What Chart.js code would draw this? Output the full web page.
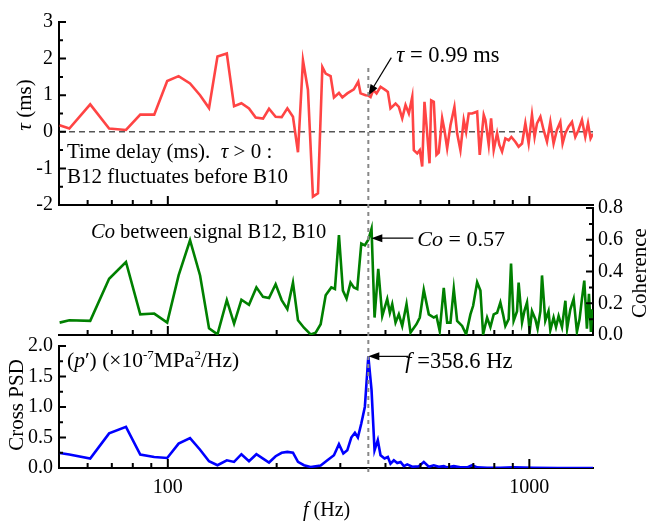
<!DOCTYPE html>
<html>
<head>
<meta charset="utf-8">
<script src="https://cdn.jsdelivr.net/npm/chart.js@4.4.1/dist/chart.umd.min.js"></script>
<style>
html, body { margin: 0; padding: 0; background: #fff; }
#wrap { position: relative; width: 646px; height: 523px; }
#wrap canvas { position: absolute; left: 0; top: 0; }
</style>
</head>
<body>
<div id="wrap">
  <canvas id="tau" width="646" height="523"></canvas>
  <canvas id="coh" width="646" height="523"></canvas>
  <canvas id="psd" width="646" height="523"></canvas>
</div>
<script>
// time delay tau (ms)
const tauFreq = [50.2, 53.4, 61.0, 68.8, 76.6, 83.9, 91.7, 99.6, 107.1, 115.2, 122.8, 130.0, 137.2, 145.6, 152.5, 159.8,
  167.7, 175.0, 183.4, 190.5, 198.7, 206.5, 214.1, 221.9, 229.1, 236.5, 244.1, 252.0, 260.2, 267.6, 273.3, 282.0,
  288.1, 297.4, 303.9, 313.6, 327.0, 336.3, 341.3, 352.4, 358.6, 363.8, 370.1, 377.9, 387.6, 400.1, 406.1, 413.0,
  426.5, 435.5, 445.0, 454.5, 464.2, 474.3, 479.1, 489.6, 497.7, 505.4, 512.8, 521.7, 529.5, 535.2, 544.1, 553.5,
  561.6, 573.9, 582.3, 592.5, 605.1, 620.5, 631.3, 644.7, 658.4, 668.5, 679.7, 694.6, 717.1, 729.1, 747.9, 756.0,
  772.1, 783.8, 796.9, 814.4, 826.2, 840.5, 858.3, 876.6, 891.8, 914.6, 934.0, 954.6, 974.9, 995.6, 1017, 1034,
  1050, 1073, 1095, 1119, 1143, 1167, 1192, 1218, 1236, 1258, 1284, 1312, 1340, 1368, 1398, 1428, 1453, 1477, 1500];
const tauVal = [0.18, 0.09, 0.75, 0.09, 0.05, 0.47, 0.47, 1.39, 1.52, 1.32, 1.00, 0.65, 2.06, 2.14, 0.70, 0.78,
  0.64, 0.39, 0.36, 0.63, 0.41, 0.40, 0.64, 0.41, -0.56, 1.95, 1.15, -1.77, -1.68, 1.77, 1.59, 1.52,
  0.94, 1.06, 0.94, 1.05, 1.16, 1.37, 1.05, 1.00, 0.99, 0.95, 1.14, 1.05, 1.23, 1.14, 1.09, 0.64,
  0.77, 0.68, 0.37, 0.73, 0.50, 0.95, -0.50, -0.59, -0.50, -0.95, 0.82, -0.04, -0.86, 0.86, 0.82, -0.63,
  -0.57, 0.37, 0.05, -0.45, 0.18, 0.68, -0.04, -0.50, 0.32, 0.00, 0.50, 0.50, 0.55, -0.63, 0.46, 0.32,
  -0.36, 0.37, -0.50, -0.04, -0.36, -0.54, -0.18, -0.23, -0.14, -0.27, -0.41, -0.32, 0.23, -0.32, 0.46, -0.14,
  0.23, 0.41, 0.05, -0.27, 0.27, -0.32, 0.05, 0.27, -0.32, -0.04, 0.14, 0.27, -0.14, 0.05, 0.32, -0.14, 0.23, -0.18, -0.05];

// coherence
const cohFreq = [50.2, 53.4, 61.0, 68.8, 76.6, 83.9, 91.7, 99.6, 107.1, 115.2, 122.8, 130.0, 137.2, 145.6, 152.5, 159.8,
  167.7, 175.8, 183.4, 190.5, 198.7, 206.5, 214.1, 221.9, 229.1, 238.0, 248.3, 256.4, 264.7, 273.3, 283.3, 289.9,
  297.4, 305.0, 312.2, 320.2, 327.0, 334.2, 342.9, 350.8, 358.6, 366.0, 373.1, 382.0, 391.9, 404.5, 411.3, 417.6,
  426.5, 435.5, 445.0, 457.4, 469.2, 487.3, 497.7, 510.5, 527.1, 544.1, 553.5, 565.0, 579.8, 592.5, 605.1, 618.0,
  631.3, 651.8, 668.5, 687.1, 699.1, 717.1, 732.3, 745.0, 764.1, 780.4, 796.9, 814.4, 831.5, 845.8, 858.3, 876.6,
  890.0, 904.8, 924.7, 934.0, 954.6, 968.8, 985.4, 1002, 1017, 1039, 1054, 1073, 1084, 1107, 1130, 1143,
  1167, 1185, 1205, 1231, 1258, 1272, 1298, 1326, 1354, 1377, 1398, 1419, 1443, 1462, 1480, 1493, 1500];
const cohVal = [0.078, 0.093, 0.089, 0.354, 0.46, 0.13, 0.135, 0.078, 0.375, 0.597, 0.375, 0.042, 0.004, 0.22, 0.072, 0.222,
  0.19, 0.30, 0.24, 0.233, 0.32, 0.22, 0.163, 0.33, 0.093, 0.046, 0.004, 0.015, 0.068, 0.25, 0.30, 0.29,
  0.63, 0.28, 0.23, 0.33, 0.30, 0.29, 0.576, 0.565, 0.60, 0.67, 0.11, 0.417, 0.12, 0.227, 0.14, 0.195,
  0.078, 0.13, 0.057, 0.195, 0.015, 0.068, 0.11, 0.284, 0.13, 0.11, 0.12, 0.025, 0.297, 0.078, 0.078, 0.29,
  0.089, 0.057, 0.004, 0.13, 0.184, 0.332, 0.28, 0.004, 0.11, 0.05, 0.13, 0.14, 0.205, 0.13, 0.057, 0.10,
  0.45, 0.089, 0.15, 0.33, 0.08, 0.15, 0.205, 0.02, 0.15, 0.10, 0.04, 0.15, 0.375, 0.09, 0.15, 0.03,
  0.11, 0.05, 0.12, 0.05, 0.216, 0.04, 0.16, 0.227, 0.02, 0.10, 0.227, 0.343, 0.04, 0.26, 0.02, 0.152, 0.15];

// cross PSD (x1e-7 MPa^2/Hz)
const psdFreq = [50.2, 53.4, 61.0, 68.8, 76.6, 83.9, 91.7, 99.6, 107.1, 115.2, 122.8, 130.0, 137.2, 145.6, 152.5, 159.8,
  167.7, 175.8, 183.4, 190.5, 198.7, 206.5, 214.1, 221.9, 229.1, 238.0, 248.3, 264.7, 276.3, 288.1, 297.4, 305.8,
  313.6, 321.7, 329.2, 335.5, 342.9, 350.8, 358.6, 366.0, 373.1, 380.9, 387.6, 397.6, 406.1, 413.0, 421.9, 431.1,
  440.3, 449.7, 459.5, 474.3, 494.6, 510.5, 527.1, 544.1, 561.6, 579.8, 592.5, 618.0, 644.7, 672.8, 694.6, 717.1,
  764.1, 831.5, 904.8, 1028, 1200, 1500];
const psdVal = [0.247, 0.22, 0.155, 0.567, 0.675, 0.22, 0.18, 0.165, 0.40, 0.49, 0.30, 0.11, 0.045, 0.127, 0.10, 0.226,
  0.11, 0.226, 0.155, 0.09, 0.193, 0.25, 0.264, 0.25, 0.10, 0.045, 0.017, 0.04, 0.127, 0.21, 0.39, 0.237,
  0.29, 0.50, 0.577, 0.50, 0.73, 1.005, 1.83, 1.28, 0.29, 0.456, 0.21, 0.155, 0.18, 0.07, 0.127, 0.082,
  0.10, 0.03, 0.06, 0.02, 0.03, 0.10, 0.02, 0.045, 0.02, 0.03, 0.01, 0.03, 0.01, 0.01, 0.045, 0.01,
  0.005, 0.005, 0.01, 0.005, 0.0, 0.0];

const xMajor = [100, 1000];
const xMinor = [60, 70, 80, 90, 200, 300, 400, 500, 600, 700, 800, 900];
const peakF = 358.6;

const FONT = '"Liberation Serif", "Times New Roman", serif';

function pts(xs, ys) { return xs.map((f, i) => ({ x: f, y: ys[i] })); }

function rich(ctx, x, y, parts, size) {
  parts.forEach(p => {
    const s = p.sup ? Math.round(size * 0.62) : size;
    ctx.font = (p.it ? 'italic ' : '') + s + 'px ' + FONT;
    ctx.fillText(p.t, x, p.sup ? y - size * 0.38 : y);
    x += ctx.measureText(p.t).width;
  });
  return x;
}
function richWidth(ctx, parts, size) {
  let w = 0;
  parts.forEach(p => {
    const s = p.sup ? Math.round(size * 0.62) : size;
    ctx.font = (p.it ? 'italic ' : '') + s + 'px ' + FONT;
    w += ctx.measureText(p.t).width;
  });
  return w;
}
function vtitle(ctx, cx, cy, parts, size) {
  ctx.save();
  ctx.translate(cx, cy);
  ctx.rotate(-Math.PI / 2);
  ctx.textAlign = 'left';
  ctx.textBaseline = 'middle';
  ctx.fillStyle = '#000';
  rich(ctx, -richWidth(ctx, parts, size) / 2, 0, parts, size);
  ctx.restore();
}
function arrow(ctx, x1, y1, x2, y2) {
  const a = Math.atan2(y2 - y1, x2 - x1), L = 11, W = 4;
  ctx.strokeStyle = '#000';
  ctx.lineWidth = 1.2;
  ctx.beginPath();
  ctx.moveTo(x1, y1);
  ctx.lineTo(x2 - Math.cos(a) * L * 0.8, y2 - Math.sin(a) * L * 0.8);
  ctx.stroke();
  ctx.fillStyle = '#000';
  ctx.beginPath();
  ctx.moveTo(x2, y2);
  ctx.lineTo(x2 - L * Math.cos(a) + W * Math.sin(a), y2 - L * Math.sin(a) - W * Math.cos(a));
  ctx.lineTo(x2 - L * Math.cos(a) - W * Math.sin(a), y2 - L * Math.sin(a) + W * Math.cos(a));
  ctx.closePath();
  ctx.fill();
}

// inward ticks on the axes
const frame = {
  id: 'frame',
  afterDraw(chart, args, o) {
    const { ctx, chartArea: a, scales: { x, y } } = chart;
    ctx.save();
    ctx.strokeStyle = '#000';
    ctx.lineWidth = 2;
    ctx.beginPath();
    xMajor.forEach(v => { const p = x.getPixelForValue(v); ctx.moveTo(p, a.bottom); ctx.lineTo(p, a.bottom - 9); });
    xMinor.forEach(v => { const p = x.getPixelForValue(v); ctx.moveTo(p, a.bottom); ctx.lineTo(p, a.bottom - 5); });
    const edge = o.side === 'left' ? a.left : a.right;
    const dir = o.side === 'left' ? 1 : -1;
    const n = Math.round((y.max - y.min) / o.minor);
    for (let i = 0; i <= n; i++) {
      const v = y.min + i * o.minor;
      const major = i % Math.round(o.major / o.minor) === 0;
      const p = y.getPixelForValue(v);
      ctx.moveTo(edge, p);
      ctx.lineTo(edge + dir * (major ? 7 : 4), p);
    }
    ctx.stroke();
    ctx.restore();
  }
};

function axisX(showLabels, h) {
  return {
    type: 'logarithmic', min: 50, max: 1500,
    afterFit: s => { s.height = h; },
    grid: { display: false, drawTicks: false },
    border: { color: '#000', width: 2 },
    ticks: {
      display: showLabels, autoSkip: false, maxRotation: 0, padding: 8, color: '#000',
      font: { family: FONT, size: 20 },
      callback: v => (v === 100 || v === 1000) ? String(v) : ''
    }
  };
}
function axisY(min, max, step, w, pos, pad, fmt) {
  return {
    position: pos, min: min, max: max,
    afterFit: s => { s.width = w; },
    grid: { display: false, drawTicks: false },
    border: { color: '#000', width: 2 },
    ticks: { stepSize: step, padding: pad, color: '#000', font: { family: FONT, size: 20 }, callback: fmt }
  };
}
function common(pad, frameOpts) {
  return {
    responsive: false, animation: false, devicePixelRatio: 1,
    layout: { padding: pad },
    plugins: { legend: { display: false }, tooltip: { enabled: false }, frame: frameOpts }
  };
}

// --- top: time delay ---
new Chart(document.getElementById('tau'), {
  type: 'line',
  data: { datasets: [{ data: pts(tauFreq, tauVal), borderColor: '#ff4444', borderWidth: 2.6, pointRadius: 0, tension: 0 }] },
  options: Object.assign(common({ left: 0, right: 53, top: 22, bottom: 318 }, { side: 'left', major: 1, minor: 0.5 }), {
    scales: { x: axisX(false, 0), y: axisY(-2, 3, 1, 59, 'left', 6, v => String(v)) }
  }),
  plugins: [frame, {
    id: 'tauNotes',
    beforeDatasetsDraw(chart) {
      const { ctx, chartArea: a, scales: { y } } = chart;
      const y0 = y.getPixelForValue(0);
      ctx.save();
      ctx.setLineDash([6, 4]);
      ctx.strokeStyle = '#555';
      ctx.lineWidth = 1.5;
      ctx.beginPath(); ctx.moveTo(a.left, y0); ctx.lineTo(a.right, y0); ctx.stroke();
      ctx.restore();
    },
    afterDraw(chart) {
      const { ctx, chartArea: a, scales: { x, y } } = chart;
      ctx.save();
      ctx.fillStyle = '#000';
      ctx.textBaseline = 'alphabetic';
      rich(ctx, a.left + 8, 158, [{ t: 'Time delay (ms).  ' }, { t: 'τ', it: 1 }, { t: ' > 0 :' }], 21);
      rich(ctx, a.left + 8, 183, [{ t: 'B12 fluctuates before B10' }], 21);
      const tx = x.getPixelForValue(peakF), ty = y.getPixelForValue(0.99);
      arrow(ctx, tx + 23, ty - 38, tx, ty);
      ctx.fillStyle = '#000';
      rich(ctx, tx + 28, ty - 34, [{ t: 'τ', it: 1 }, { t: ' = 0.99 ms' }], 22.5);
      vtitle(ctx, 25, 105, [{ t: 'τ', it: 1 }, { t: ' (ms)' }], 21);
      ctx.restore();
    }
  }]
});

// --- middle: coherence ---
new Chart(document.getElementById('coh'), {
  type: 'line',
  data: { datasets: [{ data: pts(cohFreq, cohVal), borderColor: '#008000', borderWidth: 2.6, pointRadius: 0, tension: 0 }] },
  options: Object.assign(common({ left: 59, right: 0, top: 208, bottom: 188 }, { side: 'right', major: 0.2, minor: 0.1 }), {
    scales: { x: axisX(false, 0), y: axisY(0, 0.8, 0.2, 53, 'right', 5, v => v.toFixed(1)) }
  }),
  plugins: [frame, {
    id: 'cohNotes',
    afterDraw(chart) {
      const { ctx, chartArea: a, scales: { x, y } } = chart;
      ctx.save();
      ctx.fillStyle = '#000';
      ctx.textBaseline = 'alphabetic';
      rich(ctx, a.left + 32, 238, [{ t: 'Co', it: 1 }, { t: ' between signal B12, B10' }], 20.5);
      const tx = x.getPixelForValue(peakF) + 3, ty = y.getPixelForValue(0.61);
      arrow(ctx, tx + 42, ty, tx, ty);
      ctx.fillStyle = '#000';
      rich(ctx, tx + 46, ty + 8, [{ t: 'Co', it: 1 }, { t: ' = 0.57' }], 22);
      vtitle(ctx, 640, 273, [{ t: 'Coherence' }], 21);
      ctx.restore();
    }
  }]
});

// --- bottom: cross PSD ---
new Chart(document.getElementById('psd'), {
  type: 'line',
  data: { datasets: [{ data: pts(psdFreq, psdVal), borderColor: '#0000ff', borderWidth: 2.6, pointRadius: 0, tension: 0 }] },
  options: Object.assign(common({ left: 0, right: 53, top: 346, bottom: 0 }, { side: 'left', major: 0.5, minor: 0.25 }), {
    scales: { x: axisX(true, 55), y: axisY(0, 2, 0.5, 59, 'left', 6, v => v.toFixed(1)) }
  }),
  plugins: [frame, {
    id: 'psdNotes',
    afterDraw(chart) {
      const { ctx, chartArea: a, scales: { x, y } } = chart;
      ctx.save();
      // marker line through all three panels
      const px = x.getPixelForValue(peakF);
      ctx.setLineDash([4, 4]);
      ctx.strokeStyle = '#888';
      ctx.lineWidth = 2;
      ctx.beginPath(); ctx.moveTo(px, 68); ctx.lineTo(px, a.bottom + 5); ctx.stroke();
      ctx.setLineDash([]);
      ctx.fillStyle = '#000';
      ctx.textBaseline = 'alphabetic';
      rich(ctx, a.left + 8, 367, [{ t: '(' }, { t: 'p', it: 1 }, { t: '′) (×10' }, { t: '-7', sup: 1 }, { t: 'MPa' }, { t: '2', sup: 1 }, { t: '/Hz)' }], 21.5);
      const ty = y.getPixelForValue(1.83);
      arrow(ctx, px + 40, ty, px, ty);
      ctx.fillStyle = '#000';
      rich(ctx, px + 37, ty + 12, [{ t: 'f', it: 1 }, { t: ' =358.6 Hz' }], 22.5);
      vtitle(ctx, 17, 405, [{ t: 'Cross PSD' }], 21);
      rich(ctx, 303, 516, [{ t: 'f', it: 1 }, { t: ' (Hz)' }], 20);
      ctx.restore();
    }
  }]
});
</script>
</body>
</html>
